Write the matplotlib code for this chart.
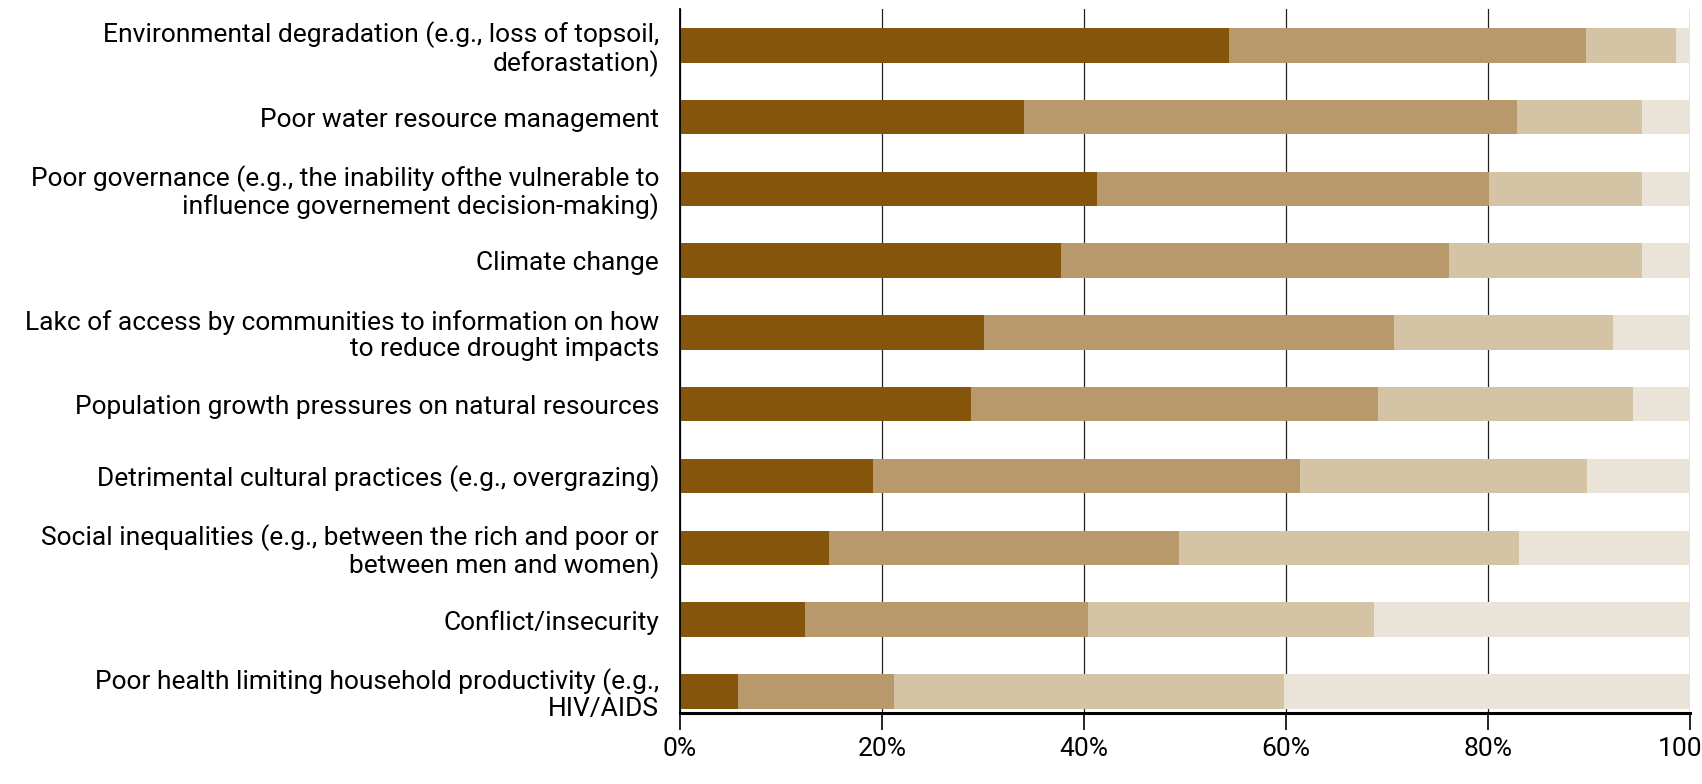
import numpy as np
import matplotlib.pyplot as plt

# Categories (top to bottom)
categories = [
    "Environmental degradation (e.g., loss of topsoil,\ndeforastation)",
    "Poor water resource management",
    "Poor governance (e.g., the inability ofthe vulnerable to\ninfluence governement decision-making)",
    "Climate change",
    "Lakc of access by communities to information on how\nto reduce drought impacts",
    "Population growth pressures on natural resources",
    "Detrimental cultural practices (e.g., overgrazing)",
    "Social inequalities (e.g., between the rich and poor or\nbetween men and women)",
    "Conflict/insecurity",
    "Poor health limiting household productivity (e.g.,\nHIV/AIDS",
]

# Stacked shares (%)
seg1 = [54.4, 34.1, 41.3, 37.7, 30.1, 28.8, 19.1, 14.8, 12.4, 5.7]
seg2 = [35.3, 48.8, 38.8, 38.4, 40.6, 40.3, 42.3, 34.6, 28.0, 15.5]
seg3 = [8.9, 12.3, 15.1, 19.1, 21.7, 25.2, 28.4, 33.7, 28.3, 38.6]
seg4 = [1.4, 4.8, 4.8, 4.8, 7.6, 5.7, 10.2, 16.9, 31.3, 40.2]

tick_vals = [0, 20, 40, 60, 80, 100]
tick_labels = ["0%", "20%", "40%", "60%", "80%", "100%"]

colors = ["#85550C", "#B7996B", "#D5C3A6", "#EAE3D8"]

plt.rcParams['font.family'] = ['Liberation Sans Narrow', 'Roboto', 'DejaVu Sans']

fig = plt.figure(figsize=(17.02, 7.84), dpi=100)
ax = fig.add_axes([0.3995, 0.0906, 0.5935, 0.8983])

y = np.arange(len(categories))
left = np.zeros(len(categories))
for seg, c in zip([seg1, seg2, seg3, seg4], colors):
    ax.barh(y, seg, left=left, height=0.48, color=c, zorder=2)
    left += np.array(seg)

ax.set_xlim(0, 100)
ax.set_ylim(9.3, -0.51)
ax.set_yticks(y)
ax.set_yticklabels(categories, fontsize=19, ha='right', linespacing=1.08)
ax.tick_params(axis='y', length=0, pad=15)
ax.set_xticks(tick_vals)
ax.set_xticklabels(tick_labels, fontsize=19)
ax.tick_params(axis='x', length=12, width=1.2, pad=5, direction='out')

ax.grid(axis='x', color='#222222', linewidth=0.9, zorder=0)
ax.set_axisbelow(True)

for s in ['top', 'right']:
    ax.spines[s].set_visible(False)
ax.spines['left'].set_linewidth(1.3)
ax.spines['bottom'].set_linewidth(2.2)

fig.savefig("out.png", dpi=100)
